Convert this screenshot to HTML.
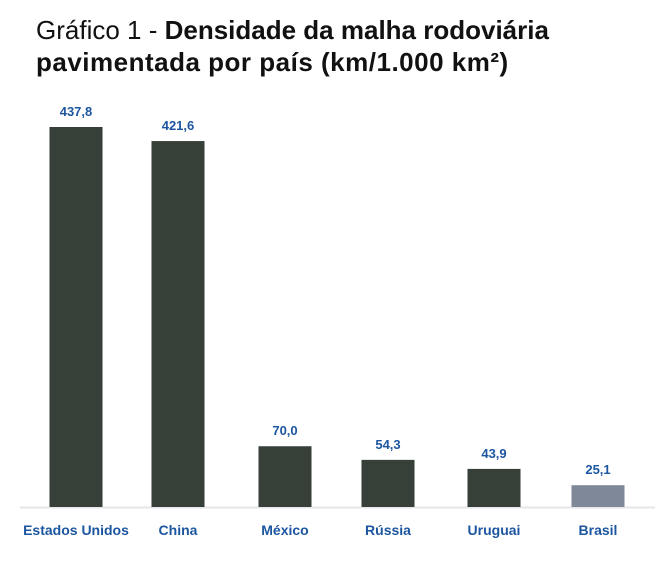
<!DOCTYPE html>
<html><head><meta charset="utf-8"><style>
body{margin:0;background:#fff;width:669px;height:572px;overflow:hidden;font-family:"Liberation Sans",sans-serif}
.t{position:absolute;left:36px;font-size:26px;color:#111;line-height:32px;white-space:nowrap}
</style></head><body>
<div class="t" style="top:14px">Gráfico 1 - <b>Densidade da malha rodoviária</b></div>
<div class="t" style="top:46px;font-weight:bold;letter-spacing:0.5px">pavimentada por país (km/1.000 km²)</div>
<svg id="c" width="669" height="572" style="position:absolute;left:0;top:0"></svg>
<script>
const categories=["Estados Unidos","China","México","Rússia","Uruguai","Brasil"];
const values=[437.8,421.6,70.0,54.3,43.9,25.1];
const labels=["437,8","421,6","70,0","54,3","43,9","25,1"];
const centers=[76,178,285,388,494,598];
const base=507, scale=380/437.8, bw=53;
const y=v=>base-v*scale;
const svg=document.getElementById('c'),NS='http://www.w3.org/2000/svg';
const ax=document.createElementNS(NS,'line');


ax.setAttribute('x1',20);ax.setAttribute('x2',655);ax.setAttribute('y1',base+0.5);ax.setAttribute('y2',base+0.5);ax.setAttribute('stroke','#e4e6ea');ax.setAttribute('stroke-width',2);
svg.appendChild(ax);
categories.forEach((c,i)=>{
 const r=document.createElementNS(NS,'rect');
 
 
 r.setAttribute('x',centers[i]-bw/2);r.setAttribute('y',y(values[i]));r.setAttribute('width',bw);r.setAttribute('height',base-y(values[i]));
 r.setAttribute('fill',c==='Brasil'?'#7e8899':'#363f38');
 svg.appendChild(r);
 const v=document.createElementNS(NS,'text');
 
 
 v.setAttribute('x',centers[i]);v.setAttribute('y',y(values[i])-11);v.setAttribute('text-anchor','middle');
 v.setAttribute('font-size','13');v.setAttribute('font-weight','bold');v.setAttribute('fill','#1d56a0');
 v.textContent=labels[i];svg.appendChild(v);
 const l=document.createElementNS(NS,'text');
 
 
 l.setAttribute('x',centers[i]);l.setAttribute('y',535);l.setAttribute('text-anchor','middle');
 l.setAttribute('font-size','14');l.setAttribute('font-weight','bold');l.setAttribute('fill','#1d56a0');
 l.textContent=c;svg.appendChild(l);
});
</script>
</body></html>
